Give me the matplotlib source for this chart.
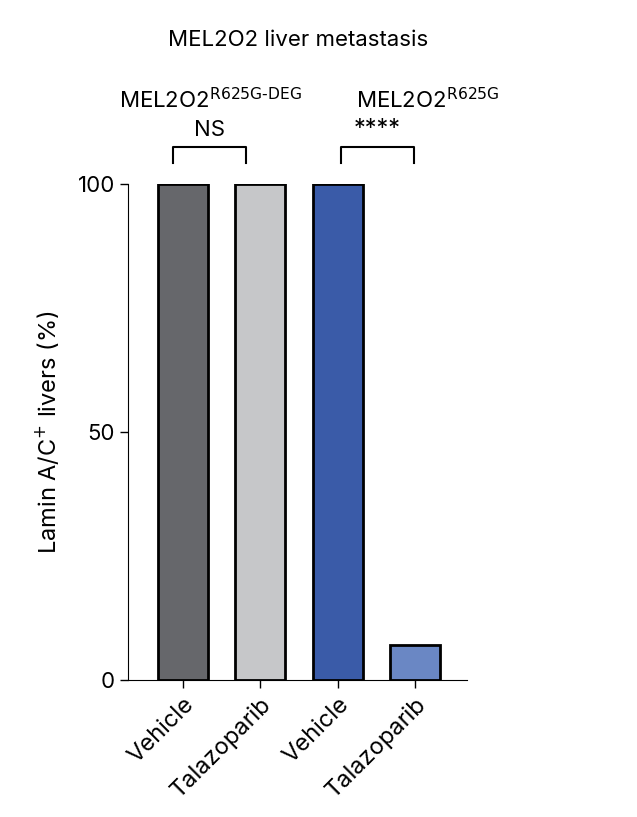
import matplotlib
matplotlib.use("Agg")
import matplotlib.pyplot as plt

categories = ["Vehicle", "Talazoparib", "Vehicle", "Talazoparib"]
values = [100, 100, 100, 7]
colors = ["#66676b", "#c6c7c9", "#3a5ba8", "#6a87c4"]
yticks = [0, 50, 100]

plt.rcParams["font.family"] = "Inter"
fig = plt.figure(figsize=(6.37, 8.17), dpi=100)
ax = fig.add_axes([0.201, 0.1677, 0.532, 0.6071])
x = list(range(len(values)))
ax.bar(x, values, width=0.65, color=colors, edgecolor="black", linewidth=2)
ax.set_xlim(-0.71, 3.67)
ax.set_ylim(0, 100)
ax.set_yticks(yticks)
ax.tick_params(labelsize=16, width=1, length=6)
ax.set_xticks(x)
ax.set_xticklabels(categories, rotation=45, ha="right", rotation_mode="anchor", fontsize=17)
for s in ["top", "right"]:
    ax.spines[s].set_visible(False)
ax.set_ylabel("Lamin A/C$^{+}$ livers (%)", fontsize=17, labelpad=12)

def bracket(x0, x1, txt, size):
    ax.plot([x0, x0, x1, x1], [104.2, 107.5, 107.5, 104.2], color="black", lw=1.5, clip_on=False)
    ax.text((x0 + x1) / 2, 108.8, txt, ha="center", va="bottom", fontsize=size, clip_on=False)

bracket(-0.13, 0.82, "NS", 16)
bracket(2.04, 2.99, "****", 17)
ax.text(0.35, 114.5, "MEL2O2$^{\\mathrm{R625G\\text{-}DEG}}$", ha="center", va="bottom", fontsize=16)
ax.text(3.17, 114.5, "MEL2O2$^{\\mathrm{R625G}}$", ha="center", va="bottom", fontsize=16)
fig.text(298 / 637, 1 - 40 / 817, "MEL2O2 liver metastasis", ha="center", va="center", fontsize=16)
fig.savefig("out.png")
